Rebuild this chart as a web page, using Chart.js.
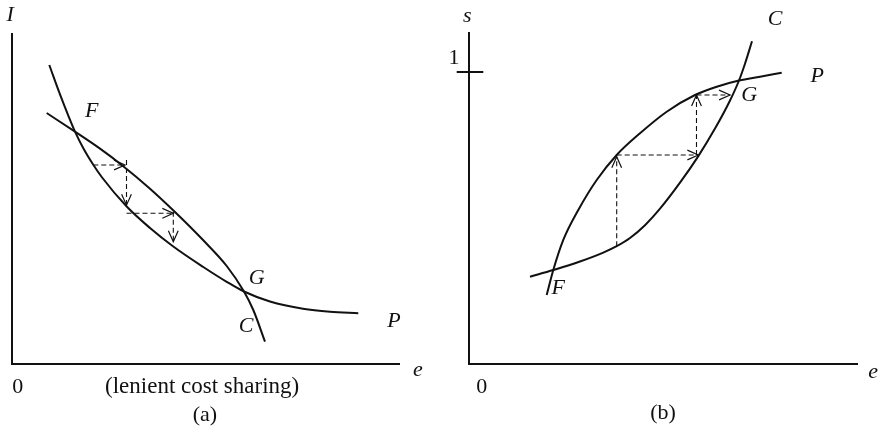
<!DOCTYPE html>
<html>
<head>
<meta charset="utf-8">
<script src="https://cdn.jsdelivr.net/npm/chart.js@4.4.0/dist/chart.umd.min.js"></script>
<style>
body { margin: 0; background: #fff; }
#wrap { position: relative; width: 881px; height: 433px; }
canvas { position: absolute; top: 0; }
</style>
</head>
<body>
<div id="wrap">
<canvas id="left" width="440" height="433" style="left:0;width:440px;height:433px"></canvas>
<canvas id="right" width="441" height="433" style="left:440px;width:441px;height:433px"></canvas>
</div>
<script>
// panel (a): I against e, lenient cost sharing
var aP_e = [9.61, 12.37, 14.51, 16.24, 18.38, 20.95, 23.12, 29.56, 35.57, 41.57, 49.30, 55.34, 59.79, 66.49, 75.0, 81.96, 89.25];
var aP_I = [90.33, 81.45, 75.05, 70.18, 65.17, 60.18, 56.50, 47.58, 41.09, 35.50, 29.31, 24.83, 21.90, 18.88, 16.68, 15.77, 15.32];
var aC_e = [8.94, 16.24, 22.68, 28.35, 35.57, 42.01, 49.30, 55.34, 59.79, 62.19, 65.21];
var aC_I = [75.83, 70.18, 65.05, 60.06, 52.96, 45.92, 37.37, 29.61, 21.90, 16.31, 6.74];
// adjustment steps [e0, I0, e1, I1]
var aSteps = [
	[20.95, 60.12, 29.12, 60.12],
	[29.51, 61.63, 29.51, 48.0],
	[29.51, 45.53, 41.57, 45.53],
	[41.57, 46.0, 41.57, 36.95]
];

// panel (b): s against e
var bP_e = [19.97, 21.67, 24.24, 28.10, 32.83, 37.97, 43.96, 50.82, 58.10, 63.68, 69.41, 74.81, 80.39];
var bP_s = [0.2363, 0.3219, 0.4247, 0.5274, 0.6301, 0.7158, 0.7901, 0.8640, 0.9212, 0.9497, 0.9709, 0.9839, 0.9976];
var bC_e = [15.68, 21.67, 28.53, 34.52, 37.97, 41.39, 45.24, 49.10, 54.24, 58.87, 63.24, 67.10, 69.41, 70.95, 72.75];
var bC_s = [0.2990, 0.3219, 0.3510, 0.3815, 0.4034, 0.4315, 0.4753, 0.5318, 0.6209, 0.7103, 0.8062, 0.9024, 0.9709, 1.0284, 1.1051];
var bSteps = [
	[37.97, 0.4034, 37.97, 0.710],
	[37.97, 0.7158, 58.95, 0.7158],
	[58.48, 0.7158, 58.48, 0.9212],
	[58.48, 0.9212, 67.10, 0.9212]
];
var bTick = 1;

function pts(xs, ys) {
	return xs.map(function (x, i) { return { x: x, y: ys[i] }; });
}

function curve(xs, ys) {
	return {
		data: pts(xs, ys),
		showLine: true,
		borderColor: '#111',
		borderWidth: 2,
		pointRadius: 0,
		cubicInterpolationMode: 'monotone',
		clip: false
	};
}

function step(s) {
	return {
		data: [{ x: s[0], y: s[1] }, { x: s[2], y: s[3] }],
		showLine: true,
		borderColor: '#111',
		borderWidth: 1.1,
		borderDash: [5, 3],
		pointRadius: 0,
		arrow: true,
		clip: false
	};
}

var serif = '"Liberation Serif", "DejaVu Serif", serif';

var sketch = {
	id: 'sketch',
	afterDatasetsDraw: function (chart) {
		var ctx = chart.ctx;
		var a = chart.chartArea;
		var xs = chart.scales.x, ys = chart.scales.y;
		ctx.save();
		ctx.strokeStyle = '#111';
		ctx.lineWidth = 2;
		ctx.beginPath();
		ctx.moveTo(a.left, a.top);
		ctx.lineTo(a.left, a.bottom);
		ctx.lineTo(a.right, a.bottom);
		ctx.stroke();

		// arrow heads
		ctx.lineWidth = 1.2;
		chart.data.datasets.forEach(function (ds, i) {
			if (!ds.arrow) return;
			var d = chart.getDatasetMeta(i).data;
			var p0 = d[0], p1 = d[d.length - 1];
			var ang = Math.atan2(p1.y - p0.y, p1.x - p0.x);
			var len = 12, spread = 0.42;
			ctx.beginPath();
			ctx.moveTo(p1.x - len * Math.cos(ang - spread), p1.y - len * Math.sin(ang - spread));
			ctx.lineTo(p1.x, p1.y);
			ctx.lineTo(p1.x - len * Math.cos(ang + spread), p1.y - len * Math.sin(ang + spread));
			ctx.stroke();
		});

		ctx.fillStyle = '#111';
		ctx.textAlign = 'center';
		ctx.textBaseline = 'middle';
		chart.options.plugins.sketch.labels.forEach(function (l) {
			ctx.font = (l.italic ? 'italic ' : '') + (l.size || 22) + 'px ' + serif;
			ctx.fillText(l.t, xs.getPixelForValue(l.x), ys.getPixelForValue(l.y));
		});
		ctx.restore();
	}
};

function makeChart(id, datasets, pad, ymax, labels) {
	new Chart(document.getElementById(id), {
		type: 'scatter',
		data: { datasets: datasets },
		options: {
			responsive: false,
			animation: false,
			layout: { padding: pad },
			plugins: { legend: { display: false }, tooltip: { enabled: false }, sketch: { labels: labels } },
			scales: {
				x: { display: false, min: 0, max: 100 },
				y: { display: false, min: 0, max: ymax }
			}
		},
		plugins: [sketch]
	});
}

makeChart('left',
	[curve(aP_e, aP_I), curve(aC_e, aC_I)].concat(aSteps.map(step)),
	{ left: 12, right: 40, top: 33, bottom: 69 },
	100,
	[
		{ t: 'I', x: -0.5, y: 105.4, italic: true },
		{ t: 'F', x: 20.54, y: 76.22, italic: true },
		{ t: 'G', x: 63.07, y: 25.89, italic: true },
		{ t: 'C', x: 60.31, y: 11.27, italic: true },
		{ t: 'P', x: 98.45, y: 12.78, italic: true },
		{ t: 'e', x: 104.6, y: -1.8, italic: true },
		{ t: '0', x: 1.5, y: -6.9 },
		{ t: '(lenient cost sharing)', x: 49.0, y: -6.9, size: 23 },
		{ t: '(a)', x: 49.7, y: -15.4 }
	]);

var tickSet = {
	data: [{ x: -3.16, y: bTick }, { x: 3.68, y: bTick }],
	showLine: true,
	borderColor: '#111',
	borderWidth: 2,
	pointRadius: 0,
	clip: false
};

makeChart('right',
	[curve(bP_e, bP_s), curve(bC_e, bC_s), tickSet].concat(bSteps.map(step)),
	{ left: 29, right: 23, top: 32, bottom: 69 },
	1.137,
	[
		{ t: 's', x: -0.44, y: 1.1918, italic: true },
		{ t: '1', x: -3.86, y: 1.0479 },
		{ t: 'C', x: 78.66, y: 1.1815, italic: true },
		{ t: 'P', x: 89.54, y: 0.9863, italic: true },
		{ t: 'G', x: 72.06, y: 0.9188, italic: true },
		{ t: 'F', x: 22.96, y: 0.2592, italic: true },
		{ t: 'e', x: 103.9, y: -0.027, italic: true },
		{ t: '0', x: 3.3, y: -0.079 },
		{ t: '(b)', x: 49.9, y: -0.168 }
	]);
</script>
</body>
</html>
